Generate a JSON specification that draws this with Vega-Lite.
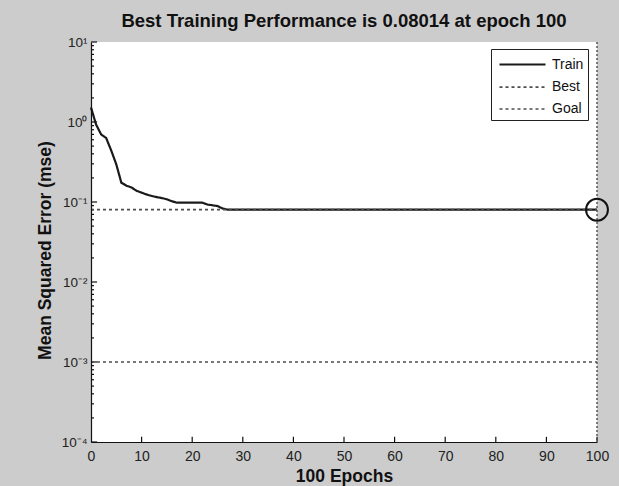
{
  "$schema": "https://vega.github.io/schema/vega-lite/v6.json",
  "width": 506,
  "height": 400,
  "autosize": {"type": "none"},
  "padding": {"left": 91, "top": 42, "right": 22, "bottom": 44},
  "background": "#cccccc",
  "config": {
    "view": {"stroke": null},
    "font": "Liberation Sans",
    "axis": {
      "domainColor": "#111111",
      "domainWidth": 1.2,
      "labelFont": "Liberation Sans",
      "labelFontSize": 14,
      "labelColor": "#222222",
      "titleFont": "Liberation Sans",
      "titleFontSize": 17.5,
      "titleFontWeight": "bold",
      "titleColor": "#111111",
      "grid": false,
      "ticks": false
    }
  },
  "title": {
    "text": "Best Training Performance is 0.08014 at epoch 100",
    "font": "Liberation Sans",
    "fontSize": 18.5,
    "fontWeight": "bold",
    "color": "#111111",
    "anchor": "middle",
    "offset": 5
  },
  "datasets": {
    "lines": [
      {"series": "Train", "epoch": 0, "mse": 1.52},
      {"series": "Train", "epoch": 1, "mse": 0.93},
      {"series": "Train", "epoch": 2, "mse": 0.7},
      {"series": "Train", "epoch": 3, "mse": 0.63},
      {"series": "Train", "epoch": 4, "mse": 0.44},
      {"series": "Train", "epoch": 5, "mse": 0.295},
      {"series": "Train", "epoch": 6, "mse": 0.174},
      {"series": "Train", "epoch": 7, "mse": 0.16},
      {"series": "Train", "epoch": 8, "mse": 0.152},
      {"series": "Train", "epoch": 9, "mse": 0.138},
      {"series": "Train", "epoch": 10, "mse": 0.131},
      {"series": "Train", "epoch": 11, "mse": 0.124},
      {"series": "Train", "epoch": 12, "mse": 0.119},
      {"series": "Train", "epoch": 13, "mse": 0.115},
      {"series": "Train", "epoch": 14, "mse": 0.112},
      {"series": "Train", "epoch": 15, "mse": 0.108},
      {"series": "Train", "epoch": 16, "mse": 0.102},
      {"series": "Train", "epoch": 17, "mse": 0.098},
      {"series": "Train", "epoch": 22, "mse": 0.098},
      {"series": "Train", "epoch": 23, "mse": 0.093},
      {"series": "Train", "epoch": 24, "mse": 0.091},
      {"series": "Train", "epoch": 25, "mse": 0.089},
      {"series": "Train", "epoch": 26, "mse": 0.083},
      {"series": "Train", "epoch": 27, "mse": 0.0802},
      {"series": "Train", "epoch": 100, "mse": 0.08014},
      {"series": "Best", "epoch": 0, "mse": 0.08014},
      {"series": "Best", "epoch": 100, "mse": 0.08014},
      {"series": "Goal", "epoch": 0, "mse": 0.001},
      {"series": "Goal", "epoch": 100, "mse": 0.001}
    ],
    "best": [{"epoch": 100, "mse": 0.08014}],
    "box": [{"x0": 0, "x1": 100, "y0": 0.0001, "y1": 10}],
    "ticks": [
      {"x0": 10, "x1": 10, "y0": 0.0001, "y1": 0.000116},
      {"x0": 20, "x1": 20, "y0": 0.0001, "y1": 0.000116},
      {"x0": 30, "x1": 30, "y0": 0.0001, "y1": 0.000116},
      {"x0": 40, "x1": 40, "y0": 0.0001, "y1": 0.000116},
      {"x0": 50, "x1": 50, "y0": 0.0001, "y1": 0.000116},
      {"x0": 60, "x1": 60, "y0": 0.0001, "y1": 0.000116},
      {"x0": 70, "x1": 70, "y0": 0.0001, "y1": 0.000116},
      {"x0": 80, "x1": 80, "y0": 0.0001, "y1": 0.000116},
      {"x0": 90, "x1": 90, "y0": 0.0001, "y1": 0.000116},
      {"x0": 100, "x1": 100, "y0": 0.0001, "y1": 0.000116},
      {"x0": 0, "x1": 1.2, "y0": 0.0001, "y1": 0.0001},
      {"x0": 0, "x1": 1.2, "y0": 0.001, "y1": 0.001},
      {"x0": 0, "x1": 1.2, "y0": 0.01, "y1": 0.01},
      {"x0": 0, "x1": 1.2, "y0": 0.1, "y1": 0.1},
      {"x0": 0, "x1": 1.2, "y0": 1, "y1": 1},
      {"x0": 0, "x1": 1.2, "y0": 10, "y1": 10},
      {"x0": 0, "x1": 0.6, "y0": 0.0002, "y1": 0.0002},
      {"x0": 0, "x1": 0.6, "y0": 0.0003, "y1": 0.0003},
      {"x0": 0, "x1": 0.6, "y0": 0.0004, "y1": 0.0004},
      {"x0": 0, "x1": 0.6, "y0": 0.0005, "y1": 0.0005},
      {"x0": 0, "x1": 0.6, "y0": 0.0006, "y1": 0.0006},
      {"x0": 0, "x1": 0.6, "y0": 0.0007, "y1": 0.0007},
      {"x0": 0, "x1": 0.6, "y0": 0.0008, "y1": 0.0008},
      {"x0": 0, "x1": 0.6, "y0": 0.0009, "y1": 0.0009},
      {"x0": 0, "x1": 0.6, "y0": 0.002, "y1": 0.002},
      {"x0": 0, "x1": 0.6, "y0": 0.003, "y1": 0.003},
      {"x0": 0, "x1": 0.6, "y0": 0.004, "y1": 0.004},
      {"x0": 0, "x1": 0.6, "y0": 0.005, "y1": 0.005},
      {"x0": 0, "x1": 0.6, "y0": 0.006, "y1": 0.006},
      {"x0": 0, "x1": 0.6, "y0": 0.007, "y1": 0.007},
      {"x0": 0, "x1": 0.6, "y0": 0.008, "y1": 0.008},
      {"x0": 0, "x1": 0.6, "y0": 0.009, "y1": 0.009},
      {"x0": 0, "x1": 0.6, "y0": 0.02, "y1": 0.02},
      {"x0": 0, "x1": 0.6, "y0": 0.03, "y1": 0.03},
      {"x0": 0, "x1": 0.6, "y0": 0.04, "y1": 0.04},
      {"x0": 0, "x1": 0.6, "y0": 0.05, "y1": 0.05},
      {"x0": 0, "x1": 0.6, "y0": 0.06, "y1": 0.06},
      {"x0": 0, "x1": 0.6, "y0": 0.07, "y1": 0.07},
      {"x0": 0, "x1": 0.6, "y0": 0.08, "y1": 0.08},
      {"x0": 0, "x1": 0.6, "y0": 0.09, "y1": 0.09},
      {"x0": 0, "x1": 0.6, "y0": 0.2, "y1": 0.2},
      {"x0": 0, "x1": 0.6, "y0": 0.3, "y1": 0.3},
      {"x0": 0, "x1": 0.6, "y0": 0.4, "y1": 0.4},
      {"x0": 0, "x1": 0.6, "y0": 0.5, "y1": 0.5},
      {"x0": 0, "x1": 0.6, "y0": 0.6, "y1": 0.6},
      {"x0": 0, "x1": 0.6, "y0": 0.7, "y1": 0.7},
      {"x0": 0, "x1": 0.6, "y0": 0.8, "y1": 0.8},
      {"x0": 0, "x1": 0.6, "y0": 0.9, "y1": 0.9},
      {"x0": 0, "x1": 0.6, "y0": 2, "y1": 2},
      {"x0": 0, "x1": 0.6, "y0": 3, "y1": 3},
      {"x0": 0, "x1": 0.6, "y0": 4, "y1": 4},
      {"x0": 0, "x1": 0.6, "y0": 5, "y1": 5},
      {"x0": 0, "x1": 0.6, "y0": 6, "y1": 6},
      {"x0": 0, "x1": 0.6, "y0": 7, "y1": 7},
      {"x0": 0, "x1": 0.6, "y0": 8, "y1": 8},
      {"x0": 0, "x1": 0.6, "y0": 9, "y1": 9}
    ]
  },
  "layer": [
    {
      "data": {"name": "box"},
      "mark": {"type": "rect", "fill": "white"},
      "encoding": {
        "x": {"field": "x0", "type": "quantitative", "scale": {"domain": [0, 100], "nice": false, "zero": false}, "axis": null},
        "x2": {"field": "x1"},
        "y": {"field": "y0", "type": "quantitative", "scale": {"type": "log", "domain": [0.0001, 10], "nice": false}, "axis": null},
        "y2": {"field": "y1"}
      }
    },
    {
      "data": {"name": "ticks"},
      "mark": {"type": "rule", "color": "#111111", "strokeWidth": 1.2},
      "encoding": {
        "x": {"field": "x0", "type": "quantitative", "scale": {"domain": [0, 100], "nice": false, "zero": false}, "axis": null},
        "x2": {"field": "x1"},
        "y": {"field": "y0", "type": "quantitative", "scale": {"type": "log", "domain": [0.0001, 10], "nice": false}, "axis": null},
        "y2": {"field": "y1"}
      }
    },
    {
      "data": {"name": "lines"},
      "mark": {"type": "line"},
      "encoding": {
        "x": {
          "field": "epoch",
          "type": "quantitative",
          "scale": {"domain": [0, 100], "nice": false, "zero": false},
          "axis": {
            "title": "100 Epochs",
            "orient": "bottom",
            "zindex": 2,
            "values": [0, 10, 20, 30, 40, 50, 60, 70, 80, 90, 100],
            "labelPadding": 7,
            "titlePadding": 4,
            "labelFlush": false
          }
        },
        "y": {
          "field": "mse",
          "type": "quantitative",
          "scale": {"type": "log", "domain": [0.0001, 10], "nice": false},
          "axis": {
            "title": "Mean Squared Error  (mse)",
            "orient": "left",
            "zindex": 2,
            "values": [0.0001, 0.001, 0.01, 0.1, 1, 10],
            "labelExpr": "'10' + ['⁻⁴','⁻³','⁻²','⁻¹','⁰','¹'][round(log(datum.value)/LN10)+4]",
            "labelFontSize": 13.5,
            "labelPadding": 4,
            "titlePadding": 7,
            "titleY": 208,
            "labelFlush": false
          }
        },
        "color": {
          "field": "series",
          "type": "nominal",
          "scale": {"domain": ["Train", "Best", "Goal"], "range": ["#1a1a1a", "#4d4d4d", "#4d4d4d"]},
          "legend": {
            "title": null,
            "orient": "none",
            "legendX": 400,
            "legendY": 7,
            "symbolType": "M-0.7,0H3.9",
            "symbolSize": 400,
            "labelOffset": 34,
            "labelFontSize": 14,
            "labelColor": "#111111",
            "labelFont": "Liberation Sans",
            "strokeColor": "#222222",
            "fillColor": "white",
            "padding": 4,
            "rowPadding": 4
          }
        },
        "strokeDash": {
          "field": "series",
          "type": "nominal",
          "scale": {"domain": ["Train", "Best", "Goal"], "range": [[1, 0], [3, 3], [3, 3]]},
          "legend": {
            "title": null,
            "orient": "none",
            "legendX": 400,
            "legendY": 7,
            "symbolType": "M-0.7,0H3.9",
            "symbolSize": 400,
            "labelOffset": 34,
            "labelFontSize": 14,
            "labelColor": "#111111",
            "labelFont": "Liberation Sans",
            "strokeColor": "#222222",
            "fillColor": "white",
            "padding": 4,
            "rowPadding": 4
          }
        },
        "strokeWidth": {
          "field": "series",
          "type": "nominal",
          "scale": {"domain": ["Train", "Best", "Goal"], "range": [2.2, 1.3, 1.3]},
          "legend": {
            "title": null,
            "orient": "none",
            "legendX": 400,
            "legendY": 7,
            "symbolType": "M-0.7,0H3.9",
            "symbolSize": 400,
            "labelOffset": 34,
            "labelFontSize": 14,
            "labelColor": "#111111",
            "labelFont": "Liberation Sans",
            "strokeColor": "#222222",
            "fillColor": "white",
            "padding": 4,
            "rowPadding": 4
          }
        }
      }
    },
    {
      "data": {"values": [{"epoch": 100}]},
      "mark": {"type": "rule", "strokeDash": [2, 2], "color": "#4d4d4d", "strokeWidth": 1.4},
      "encoding": {
        "x": {
          "field": "epoch",
          "type": "quantitative",
          "scale": {"domain": [0, 100], "nice": false, "zero": false},
          "axis": null
        }
      }
    },
    {
      "data": {"name": "best"},
      "mark": {"type": "point", "filled": false, "size": 480, "stroke": "#111111", "strokeWidth": 2, "opacity": 1},
      "encoding": {
        "x": {
          "field": "epoch",
          "type": "quantitative",
          "scale": {"domain": [0, 100], "nice": false, "zero": false},
          "axis": null
        },
        "y": {
          "field": "mse",
          "type": "quantitative",
          "scale": {"type": "log", "domain": [0.0001, 10], "nice": false},
          "axis": null
        }
      }
    }
  ],
  "resolve": {
    "scale": {"x": "independent", "y": "independent"},
    "axis": {"x": "independent", "y": "independent"}
  }
}
